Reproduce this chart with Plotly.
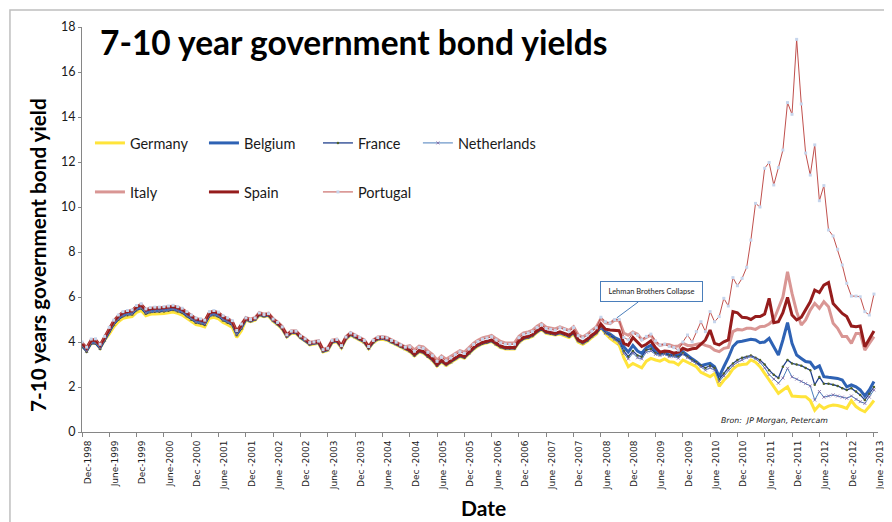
import pandas as pd
import plotly.graph_objects as go

# Monthly observations, Dec-1998 .. June-2013 (175 months)
dates = pd.date_range("1998-12-01", periods=175, freq="MS")

tick_dates = pd.date_range("1998-12-01", "2013-06-01", freq="6MS")
tick_text = ["Dec-1998", "June-1999", "Dec-1999", "June-2000", "Dec -2000", "June -2001",
             "Dec -2001", "June -2002", "Dec -2002", "June -2003", "Dec -2003", "June -2004",
             "Dec -2004", "June -2005", "Dec -2005", "June -2006", "Dec -2006", "June -2007",
             "Dec -2007", "June -2008", "Dec -2008", "June -2009", "Dec -2009", "June -2010",
             "Dec -2010", "June -2011", "Dec -2011", "June -2012", "Dec -2012", "June -2013"]

germany = [
    3.83, 3.60, 3.96, 3.97, 3.73, 4.08, 4.35, 4.67, 4.90, 5.05,
    5.10, 5.13, 5.32, 5.40, 5.17, 5.23, 5.25, 5.25, 5.27, 5.30,
    5.33, 5.27, 5.20, 5.05, 4.90, 4.77, 4.73, 4.67, 5.05, 5.10,
    5.03, 4.87, 4.77, 4.65, 4.21, 4.50, 4.97, 4.90, 4.97, 5.19,
    5.12, 5.16, 4.92, 4.77, 4.57, 4.22, 4.38, 4.38, 4.17, 4.04,
    3.87, 3.90, 3.94, 3.56, 3.62, 3.97, 4.01, 3.74, 4.12, 4.30,
    4.20, 4.10, 3.97, 3.70, 3.97, 4.10, 4.12, 4.08, 3.97, 3.89,
    3.77, 3.67, 3.57, 3.38, 3.55, 3.51, 3.33, 3.18, 2.93, 3.11,
    2.96, 3.08, 3.23, 3.35, 3.28, 3.48, 3.68, 3.81, 3.91, 3.96,
    4.02, 3.88, 3.75, 3.69, 3.68, 3.69, 3.98, 4.13, 4.18, 4.25,
    4.43, 4.55, 4.39, 4.35, 4.31, 4.35, 4.28, 4.20, 4.36, 4.00,
    3.90, 4.02, 4.20, 4.35, 4.65, 4.38, 4.16, 4.00, 3.87, 3.30,
    2.90, 3.05, 2.95, 2.85, 3.15, 3.27, 3.20, 3.15, 3.25, 3.12,
    3.10, 2.98, 3.20, 3.10, 2.98, 2.90, 2.65, 2.55, 2.46, 2.60,
    2.03, 2.30, 2.50, 2.80, 2.95, 3.00, 3.02, 3.20, 3.10, 2.90,
    2.60, 2.30, 2.05, 1.72, 1.87, 2.01, 1.60, 1.57, 1.57, 1.57,
    1.40, 0.97, 1.20, 1.05, 1.15, 1.20, 1.18, 1.12, 1.05, 1.39,
    1.13, 1.00, 0.90, 1.13, 1.40]

belgium = [
    3.85, 3.62, 3.98, 3.99, 3.75, 4.10, 4.50, 4.82, 5.05, 5.20,
    5.25, 5.28, 5.47, 5.55, 5.32, 5.38, 5.40, 5.40, 5.42, 5.45,
    5.48, 5.42, 5.35, 5.20, 5.05, 4.92, 4.88, 4.82, 5.20, 5.25,
    5.18, 5.02, 4.92, 4.80, 4.36, 4.65, 5.01, 4.94, 5.01, 5.23,
    5.16, 5.20, 4.96, 4.81, 4.61, 4.26, 4.42, 4.42, 4.21, 4.08,
    3.91, 3.94, 3.98, 3.60, 3.66, 4.01, 4.05, 3.78, 4.16, 4.34,
    4.24, 4.14, 4.01, 3.74, 4.01, 4.14, 4.16, 4.12, 4.01, 3.93,
    3.81, 3.71, 3.61, 3.42, 3.59, 3.55, 3.37, 3.22, 2.97, 3.15,
    3.00, 3.12, 3.27, 3.39, 3.32, 3.52, 3.72, 3.85, 3.95, 4.00,
    4.06, 3.92, 3.79, 3.73, 3.72, 3.73, 4.02, 4.17, 4.22, 4.29,
    4.47, 4.59, 4.43, 4.39, 4.35, 4.41, 4.34, 4.26, 4.42, 4.06,
    3.96, 4.08, 4.26, 4.41, 4.68, 4.45, 4.35, 4.20, 4.10, 3.79,
    3.55, 3.85, 3.60, 3.50, 3.75, 3.85, 3.60, 3.50, 3.55, 3.42,
    3.45, 3.40, 3.57, 3.40, 3.25, 3.13, 2.95, 3.00, 3.05, 2.90,
    2.46, 2.90, 3.30, 3.80, 4.00, 4.03, 4.09, 4.12, 4.09, 3.97,
    4.00, 4.16, 3.79, 3.42, 4.09, 4.86, 3.94, 3.42, 3.27, 3.13,
    3.10, 2.83, 2.94, 2.46, 2.43, 2.40, 2.38, 2.31, 2.01, 2.09,
    2.01, 1.87, 1.60, 1.87, 2.24]

france = [
    3.79, 3.56, 3.92, 3.93, 3.69, 4.04, 4.44, 4.76, 4.99, 5.14,
    5.19, 5.22, 5.41, 5.49, 5.26, 5.32, 5.34, 5.34, 5.36, 5.39,
    5.42, 5.36, 5.29, 5.14, 4.99, 4.86, 4.82, 4.76, 5.14, 5.19,
    5.12, 4.96, 4.86, 4.74, 4.30, 4.59, 4.99, 4.92, 4.99, 5.21,
    5.14, 5.18, 4.94, 4.79, 4.59, 4.24, 4.40, 4.40, 4.19, 4.06,
    3.89, 3.92, 3.96, 3.58, 3.64, 3.99, 4.03, 3.76, 4.14, 4.32,
    4.22, 4.12, 3.99, 3.72, 3.99, 4.12, 4.14, 4.10, 3.99, 3.91,
    3.79, 3.69, 3.59, 3.40, 3.57, 3.53, 3.35, 3.20, 2.95, 3.13,
    2.98, 3.10, 3.25, 3.37, 3.30, 3.50, 3.70, 3.83, 3.93, 3.98,
    4.04, 3.90, 3.77, 3.71, 3.70, 3.71, 4.00, 4.15, 4.20, 4.27,
    4.45, 4.57, 4.41, 4.37, 4.33, 4.40, 4.33, 4.25, 4.41, 4.05,
    3.95, 4.07, 4.25, 4.40, 4.62, 4.40, 4.30, 4.15, 4.00, 3.60,
    3.35, 3.60, 3.40, 3.35, 3.65, 3.70, 3.50, 3.45, 3.50, 3.40,
    3.40, 3.35, 3.50, 3.35, 3.20, 3.10, 2.95, 2.85, 2.95, 2.85,
    2.35, 2.60, 2.85, 3.05, 3.20, 3.30, 3.35, 3.40, 3.30, 3.20,
    3.00, 2.75, 2.55, 2.40, 2.90, 3.20, 3.05, 3.00, 2.95, 2.85,
    2.75, 2.10, 2.45, 2.15, 2.15, 2.10, 2.05, 1.95, 1.87, 1.95,
    1.80, 1.65, 1.42, 1.70, 2.00]

netherlands = [
    3.82, 3.59, 3.95, 3.96, 3.72, 4.07, 4.47, 4.79, 5.02, 5.17,
    5.22, 5.25, 5.44, 5.52, 5.29, 5.35, 5.37, 5.37, 5.39, 5.42,
    5.45, 5.39, 5.32, 5.17, 5.02, 4.89, 4.85, 4.79, 5.17, 5.22,
    5.15, 4.99, 4.89, 4.77, 4.33, 4.62, 5.00, 4.93, 5.00, 5.22,
    5.15, 5.19, 4.95, 4.80, 4.60, 4.25, 4.41, 4.41, 4.20, 4.07,
    3.90, 3.93, 3.97, 3.59, 3.65, 4.00, 4.04, 3.77, 4.15, 4.33,
    4.23, 4.13, 4.00, 3.73, 4.00, 4.13, 4.15, 4.11, 4.00, 3.92,
    3.80, 3.70, 3.60, 3.41, 3.58, 3.54, 3.36, 3.21, 2.96, 3.14,
    2.99, 3.11, 3.26, 3.38, 3.31, 3.51, 3.71, 3.84, 3.94, 3.99,
    4.05, 3.91, 3.78, 3.72, 3.71, 3.72, 4.01, 4.16, 4.21, 4.28,
    4.46, 4.58, 4.42, 4.38, 4.34, 4.41, 4.34, 4.26, 4.42, 4.06,
    3.96, 4.08, 4.26, 4.41, 4.60, 4.38, 4.25, 4.10, 3.95, 3.50,
    3.25, 3.50, 3.30, 3.25, 3.55, 3.60, 3.45, 3.40, 3.45, 3.35,
    3.35, 3.28, 3.45, 3.30, 3.15, 3.05, 2.90, 2.75, 2.85, 2.75,
    2.25, 2.50, 2.75, 2.95, 3.10, 3.20, 3.30, 3.35, 3.25, 3.10,
    2.85, 2.55, 2.35, 2.17, 2.40, 2.83, 2.45, 2.35, 2.25, 2.15,
    2.05, 1.42, 1.80, 1.55, 1.60, 1.65, 1.60, 1.55, 1.50, 1.60,
    1.45, 1.35, 1.27, 1.55, 1.87]

italy = [
    3.97, 3.74, 4.10, 4.11, 3.87, 4.22, 4.62, 4.94, 5.17, 5.32,
    5.37, 5.40, 5.59, 5.67, 5.44, 5.50, 5.52, 5.52, 5.54, 5.57,
    5.60, 5.54, 5.47, 5.32, 5.17, 5.04, 5.00, 4.94, 5.32, 5.37,
    5.30, 5.14, 5.04, 4.92, 4.48, 4.77, 5.09, 5.02, 5.09, 5.31,
    5.24, 5.28, 5.04, 4.89, 4.69, 4.34, 4.50, 4.50, 4.29, 4.16,
    3.99, 4.02, 4.06, 3.68, 3.74, 4.09, 4.13, 3.86, 4.24, 4.42,
    4.32, 4.22, 4.09, 3.82, 4.09, 4.22, 4.24, 4.20, 4.09, 4.01,
    3.89, 3.79, 3.84, 3.65, 3.82, 3.78, 3.60, 3.45, 3.20, 3.38,
    3.23, 3.35, 3.50, 3.62, 3.55, 3.75, 3.95, 4.08, 4.18, 4.23,
    4.29, 4.15, 4.02, 3.96, 3.95, 3.96, 4.25, 4.40, 4.45, 4.52,
    4.70, 4.82, 4.66, 4.62, 4.58, 4.67, 4.60, 4.52, 4.68, 4.32,
    4.22, 4.34, 4.52, 4.67, 5.05, 4.85, 4.82, 4.98, 4.95, 4.40,
    4.30, 4.45, 4.35, 4.10, 4.20, 4.30, 4.00, 3.85, 3.90, 3.88,
    3.80, 3.82, 3.95, 3.85, 3.85, 3.90, 3.94, 3.85, 3.79, 3.64,
    3.57, 3.72, 3.76, 4.46, 4.56, 4.53, 4.61, 4.61, 4.56, 4.68,
    4.70, 4.80, 4.98, 5.50, 6.00, 7.12, 6.16, 5.35, 4.75, 4.98,
    5.42, 5.72, 5.50, 5.79, 5.57, 4.83, 4.61, 4.24, 4.24, 3.94,
    4.38, 4.38, 3.64, 3.94, 4.24]

spain = [
    3.95, 3.72, 4.08, 4.09, 3.85, 4.20, 4.60, 4.92, 5.15, 5.30,
    5.35, 5.38, 5.57, 5.65, 5.42, 5.48, 5.50, 5.50, 5.52, 5.55,
    5.58, 5.52, 5.45, 5.30, 5.15, 5.02, 4.98, 4.92, 5.30, 5.35,
    5.28, 5.12, 5.02, 4.90, 4.46, 4.75, 5.05, 4.98, 5.05, 5.27,
    5.20, 5.24, 5.00, 4.85, 4.65, 4.30, 4.46, 4.46, 4.25, 4.12,
    3.95, 3.98, 4.02, 3.64, 3.70, 4.05, 4.09, 3.82, 4.20, 4.38,
    4.28, 4.18, 4.05, 3.78, 4.05, 4.18, 4.20, 4.16, 4.05, 3.97,
    3.85, 3.75, 3.64, 3.45, 3.62, 3.58, 3.40, 3.25, 3.00, 3.18,
    3.03, 3.15, 3.30, 3.42, 3.35, 3.55, 3.75, 3.88, 3.98, 4.03,
    4.09, 3.95, 3.82, 3.76, 3.75, 3.76, 4.05, 4.20, 4.25, 4.32,
    4.50, 4.62, 4.46, 4.42, 4.38, 4.45, 4.38, 4.30, 4.46, 4.10,
    4.00, 4.12, 4.30, 4.45, 4.80, 4.57, 4.53, 4.52, 4.50, 3.94,
    3.85, 4.20, 4.00, 3.80, 3.90, 4.05, 3.75, 3.55, 3.60, 3.58,
    3.50, 3.55, 3.72, 3.64, 3.70, 3.72, 3.90, 4.09, 4.53, 3.94,
    3.87, 4.01, 4.09, 5.35, 5.30, 5.10, 5.08, 5.00, 5.13, 5.13,
    5.24, 5.94, 4.86, 4.90, 5.30, 5.98, 5.20, 4.98, 5.10, 5.42,
    5.79, 6.31, 6.20, 6.53, 6.64, 5.71, 5.50, 5.27, 5.13, 4.71,
    4.68, 4.71, 3.79, 4.16, 4.49]

portugal = [
    4.00, 3.77, 4.13, 4.14, 3.90, 4.25, 4.65, 4.97, 5.20, 5.35,
    5.40, 5.43, 5.62, 5.70, 5.47, 5.53, 5.55, 5.55, 5.57, 5.60,
    5.63, 5.57, 5.50, 5.35, 5.20, 5.07, 5.03, 4.97, 5.35, 5.40,
    5.33, 5.17, 5.07, 4.95, 4.51, 4.80, 5.07, 5.00, 5.07, 5.29,
    5.22, 5.26, 5.02, 4.87, 4.67, 4.32, 4.48, 4.48, 4.27, 4.14,
    3.97, 4.00, 4.04, 3.66, 3.72, 4.07, 4.11, 3.84, 4.22, 4.40,
    4.30, 4.20, 4.07, 3.80, 4.07, 4.20, 4.22, 4.18, 4.07, 3.99,
    3.87, 3.77, 3.78, 3.59, 3.76, 3.72, 3.54, 3.39, 3.14, 3.32,
    3.17, 3.29, 3.44, 3.56, 3.49, 3.69, 3.89, 4.02, 4.12, 4.17,
    4.23, 4.09, 3.96, 3.90, 3.89, 3.90, 4.19, 4.34, 4.39, 4.46,
    4.64, 4.76, 4.60, 4.56, 4.52, 4.63, 4.56, 4.48, 4.64, 4.28,
    4.18, 4.30, 4.48, 4.63, 5.10, 4.90, 4.85, 5.00, 5.00, 4.20,
    4.10, 4.40, 4.30, 4.10, 4.25, 4.35, 4.05, 3.87, 3.90, 3.80,
    3.75, 3.64, 4.00, 4.31, 4.01, 4.46, 4.90, 4.46, 5.35, 4.90,
    5.13, 5.94, 5.60, 6.86, 6.50, 6.83, 7.32, 8.53, 10.16, 10.00,
    11.72, 11.98, 10.98, 11.75, 12.53, 14.64, 14.12, 17.45, 14.58, 12.40,
    11.42, 12.76, 10.28, 10.95, 8.98, 8.71, 8.12, 7.42, 6.61, 6.04,
    6.04, 6.01, 5.35, 5.20, 6.13]

series = [
    ("Germany", germany, dict(color="#FFE43A", width=3), None, "legend"),
    ("Belgium", belgium, dict(color="#2E62B4", width=3), None, "legend"),
    ("France", france, dict(color="#203F8C", width=1.3),
     dict(symbol="circle", size=2.5, color="#4F6228", line=dict(width=0)), "legend"),
    ("Netherlands", netherlands, dict(color="#4A7EBB", width=1),
     dict(symbol="x-thin", size=3, color="#8064A2", line=dict(width=0.8, color="#8064A2")), "legend3"),
    ("Italy", italy, dict(color="#D99694", width=3), None, "legend2"),
    ("Spain", spain, dict(color="#951C1C", width=3), None, "legend2"),
    ("Portugal", portugal, dict(color="#C0504D", width=1),
     dict(symbol="square", size=3, color="#C6D5EC", line=dict(width=0)), "legend2"),
]

fig = go.Figure()
for name, vals, line, marker, leg in series:
    fig.add_trace(go.Scatter(
        x=dates, y=vals, name=name, legend=leg,
        mode="lines+markers" if marker else "lines",
        line=line, marker=marker,
    ))

legend_common = dict(
    orientation="h", xanchor="left", yanchor="middle",
    font=dict(family="Lato", size=14.5, color="#1a1a1a"),
    entrywidth=69, entrywidthmode="pixels",
    bgcolor="rgba(0,0,0,0)", itemwidth=30, tracegroupgap=0,
)

# The page body has an 8px margin, so the figure is sized 8px smaller.
fig.update_layout(
    width=884, height=514,
    margin=dict(l=74, r=14, t=19, b=90),
    paper_bgcolor="white", plot_bgcolor="white",
    showlegend=True,
    legend=dict(legend_common, x=0.010, y=0.7136),
    legend2=dict(legend_common, x=0.010, y=0.5926),
    legend3=dict(legend_common, x=0.422, y=0.7136, entrywidth=0),
    xaxis=dict(
        range=["1998-12-01", "2013-06-28"],
        tickvals=tick_dates, ticktext=tick_text, tickangle=-90,
        tickfont=dict(family="DejaVu Sans", size=9, color="#1a1a1a"),
        showline=True, linecolor="#868686", linewidth=1,
        ticks="outside", ticklen=4, tickcolor="#868686",
        showgrid=False, zeroline=False, ticklabelshift=6, automargin=False,
    ),
    yaxis=dict(
        range=[0, 18], dtick=2,
        tickfont=dict(family="Lato", size=12.5, color="#1a1a1a"),
        showline=True, linecolor="#868686", linewidth=1,
        ticks="outside", ticklen=3, tickcolor="#868686",
        showgrid=False, zeroline=False, automargin=False,
    ),
    shapes=[dict(type="rect", xref="paper", yref="paper",
                 x0=-0.0905, x1=1.03, y0=-0.25, y1=1.042,
                 line=dict(color="#BFBFBF", width=1.5), layer="below")],
    annotations=[
        dict(text="<b>7-10 year government bond yields</b>", xref="paper", yref="paper",
             x=0.0201, y=0.963, xanchor="left", yanchor="middle", showarrow=False,
             font=dict(family="Lato", size=33.5, color="#000000")),
        dict(text="<b>7-10 years government bond yield</b>", xref="paper", yref="paper",
             x=-0.0553, y=0.437, xanchor="center", yanchor="middle", showarrow=False,
             textangle=-90, font=dict(family="Lato", size=20.7, color="#000000")),
        dict(text="<b>Date</b>", xref="paper", yref="paper",
             x=0.5038, y=-0.186, xanchor="center", yanchor="middle", showarrow=False,
             font=dict(family="Lato", size=21, color="#000000")),
        dict(text="<i>Bron:  JP Morgan, Petercam</i>", xref="paper", yref="paper",
             x=0.8003, y=0.0272, xanchor="left", yanchor="middle", showarrow=False,
             font=dict(family="DejaVu Sans", size=7.8, color="#1a1a1a")),
        dict(text="Lehman Brothers Collapse", x="2008-09-15", y=5.07,
             xref="x", yref="y", showarrow=True, arrowhead=0, arrowwidth=1,
             arrowcolor="#4A7EBB", ax=35, ay=-26, standoff=0,
             bordercolor="#4A7EBB", borderwidth=1, borderpad=4, bgcolor="white",
             width=93, height=11,
             font=dict(family="Lato", size=7.5, color="#1a1a1a")),
    ],
)

fig.write_html("out.html")
